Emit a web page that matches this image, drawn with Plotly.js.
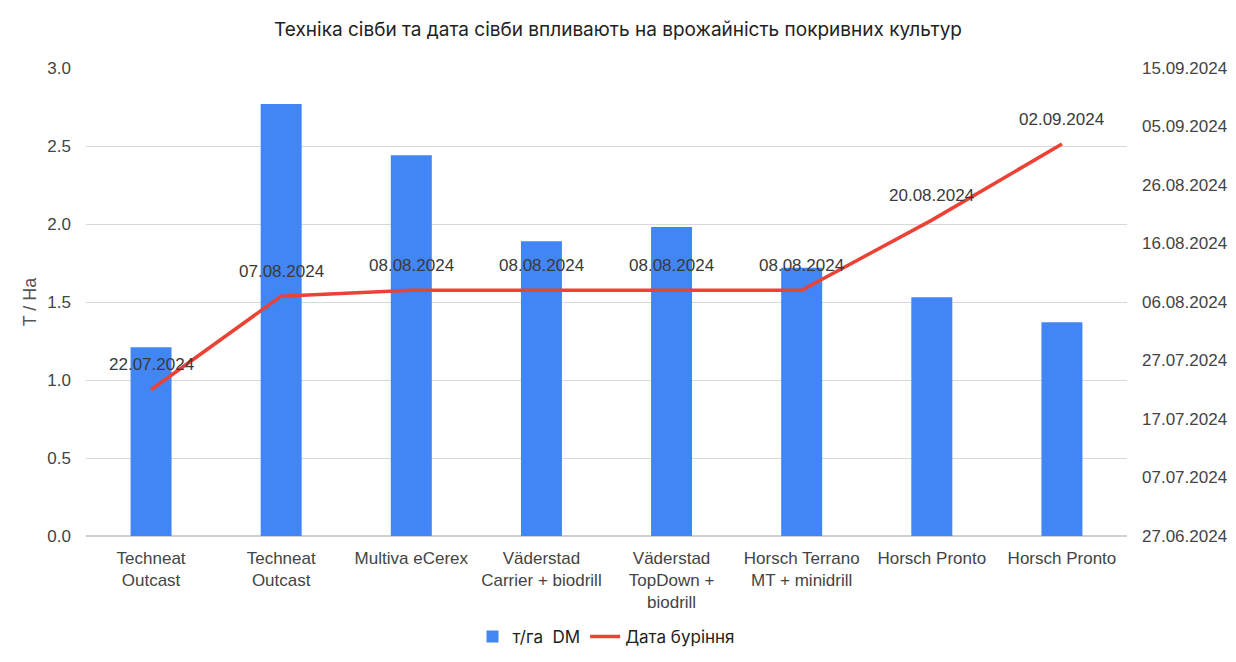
<!DOCTYPE html>
<html>
<head>
<meta charset="utf-8">
<script src="https://cdn.plot.ly/plotly-3.0.1.min.js"></script>
<style>html,body{margin:0;padding:0;background:#fff;}#chart{width:1236px;height:662px;}</style>
</head>
<body>
<div id="chart"></div>
<script>
const categories = [
  "Techneat<br>Outcast",
  "Techneat<br>Outcast",
  "Multiva eCerex",
  "Väderstad<br>Carrier + biodrill",
  "Väderstad<br>TopDown +<br>biodrill",
  "Horsch Terrano<br>MT + minidrill",
  "Horsch Pronto",
  "Horsch Pronto"
];
const yieldValues = [1.21, 2.77, 2.44, 1.89, 1.98, 1.72, 1.53, 1.37];
const sowingDates = ["2024-07-22", "2024-08-07", "2024-08-08", "2024-08-08", "2024-08-08", "2024-08-08", "2024-08-20", "2024-09-02"];
const barName = "т/га  DM";
const lineName = "Дата буріння";
const titleText = "Техніка сівби та дата сівби впливають на врожайність покривних культур";
const yTitle = "T / Ha";

const xIdx = categories.map((c, i) => i);
const fmt = d => { const p = d.split("-"); return p[2] + "." + p[1] + "." + p[0]; };

const traces = [
  {
    type: "bar", x: xIdx, y: yieldValues, name: barName,
    marker: {color: "#4285f4"}, width: 0.315, hoverinfo: "y"
  },
  {
    type: "scatter", mode: "lines", x: xIdx, y: sowingDates, yaxis: "y2", name: lineName,
    line: {color: "#ea4335", width: 3.5}
  }
];

const annotations = sowingDates.map((d, i) => ({
  x: xIdx[i], y: d, xref: "x", yref: "y2", text: fmt(d), showarrow: false,
  yshift: 25, font: {family: "Liberation Sans, Arial, sans-serif", size: 17, color: "#3a3a3a"}
}));

const layout = {
  width: 1236, height: 662,
  margin: {l: 86, r: 109, t: 68, b: 126, autoexpand: false},
  paper_bgcolor: "#fff", plot_bgcolor: "#fff",
  font: {family: "Liberation Sans, Arial, sans-serif", size: 17, color: "#444"},
  title: {text: titleText, font: {family: "Inter, sans-serif", size: 19, color: "#222"}, x: 0.5, xanchor: "center", y: 0.955, yanchor: "middle"},
  showlegend: true,
  legend: {orientation: "h", x: 0.5, xanchor: "center", yref: "container", y: 0.038, yanchor: "middle", font: {family: "Inter, sans-serif", size: 17, color: "#222"}},
  xaxis: {
    range: [-0.5, 7.5], tickvals: xIdx, ticktext: categories, showgrid: false, zeroline: false, automargin: false,
    showline: false, ticks: "", ticklabelstandoff: 10, tickfont: {size: 17, color: "#444"}, fixedrange: true
  },
  yaxis: {
    range: [0, 3], dtick: 0.5, tickformat: ".1f", showgrid: true, gridcolor: "#d9d9d9", gridwidth: 1, automargin: false,
    zeroline: true, zerolinecolor: "#d0d0d0", zerolinewidth: 1.5, ticks: "", ticklabelstandoff: 14,
    tickfont: {size: 17, color: "#444"},
    title: {text: yTitle, font: {size: 18, color: "#555"}, standoff: 6}
  },
  yaxis2: {
    type: "date", overlaying: "y", side: "right", automargin: false,
    range: ["2024-06-27", "2024-09-15"], tick0: "2024-06-27", dtick: 864000000, tickformat: "%d.%m.%Y",
    showgrid: false, zeroline: false, ticks: "", ticklabelstandoff: 14,
    tickfont: {size: 17, color: "#444"}
  },
  annotations: annotations,
  bargap: 0.5
};

Plotly.newPlot("chart", traces, layout, {displayModeBar: false, staticPlot: true});
</script>
</body>
</html>
